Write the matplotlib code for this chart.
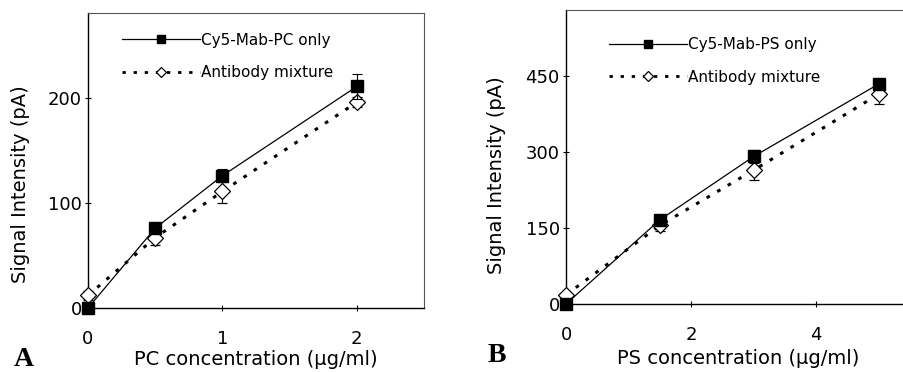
import matplotlib
matplotlib.use("Agg")
import matplotlib.pyplot as plt

# Panel A data
pc_conc = [0, 0.5, 1, 2]
pc_only = [0, 76, 126, 211]
pc_only_err = [0, 4, 6, 12]
pc_mix = [12, 67, 111, 196]
pc_mix_err = [4, 7, 11, 5]

# Panel B data
ps_conc = [0, 1.5, 3, 5]
ps_only = [0, 166, 291, 434]
ps_only_err = [0, 6, 12, 10]
ps_mix = [18, 155, 264, 414]
ps_mix_err = [4, 11, 19, 20]

plt.rcParams['font.family'] = ['DejaVu Sans']

W, H = 904, 372
fig = plt.figure(figsize=(W / 100, H / 100), dpi=100)

def px_axes(l, r, t, b):
    return fig.add_axes([l / W, 1 - b / H, (r - l) / W, (b - t) / H])

def style(ax):
    for s in ['left', 'bottom']:
        ax.spines[s].set_linewidth(1.0)
        ax.spines[s].set_color('black')
    for s in ['top', 'right']:
        ax.spines[s].set_linewidth(0.8)
        ax.spines[s].set_color('#555555')
        ax.spines[s].set_linestyle((0, (3, 1)))
    ax.tick_params(direction='inout', length=5, width=0.8, labelsize=13)
    ax.tick_params(axis='x', pad=13)
    ax.tick_params(axis='y', pad=2)

def draw(ax, x, y1, e1, y2, e2):
    ax.plot(x, y1, color='black', lw=0.9, zorder=2)
    ax.plot(x, y2, color='black', lw=2.2, linestyle=(0, (1.2, 2.8)), zorder=2)
    ax.errorbar(x, y1, yerr=e1, fmt='s', color='black', ms=8.5, mfc='black',
                mec='black', ecolor='black', elinewidth=0.8, capsize=3.5,
                capthick=0.8, zorder=4, clip_on=False)
    ax.errorbar(x, y2, yerr=e2, fmt='D', color='black', ms=8, mfc='white',
                mec='black', mew=0.9, ecolor='black', elinewidth=0.8,
                capsize=3.5, capthick=0.8, zorder=3, clip_on=False)
    h1, = ax.plot([], [], color='black', lw=0.9, marker='s', ms=6, mfc='black')
    h2, = ax.plot([], [], color='black', lw=2.0, linestyle=(0, (1.2, 2.8)),
                  marker='D', ms=5, mfc='white', mec='black', mew=0.9)
    return h1, h2

# Panel A
axA = px_axes(88, 424, 13, 308)
h1, h2 = draw(axA, pc_conc, pc_only, pc_only_err, pc_mix, pc_mix_err)
axA.set_xlim(0, 2.5)
axA.set_ylim(0, 281)
axA.set_xticks([0, 1, 2])
axA.set_yticks([0, 100, 200])
axA.set_xlabel('PC concentration (μg/ml)', fontsize=14, labelpad=2)
axA.set_ylabel('Signal Intensity (pA)', fontsize=14)
axA.yaxis.set_label_coords(-0.172, 0.42)
style(axA)
axA.legend([h1, h2], ['Cy5-Mab-PC only', 'Antibody mixture'], loc='upper left',
           bbox_to_anchor=(0.06, 0.98), frameon=False, fontsize=11,
           handlelength=5.1, handletextpad=0.05, labelspacing=1.15)
fig.text(14 / W, 1 - 360 / H, 'A', fontsize=20, fontweight='bold',
         family='Liberation Serif', va='center', ha='left')

# Panel B
axB = px_axes(566, 910, 10, 304)
g1, g2 = draw(axB, ps_conc, ps_only, ps_only_err, ps_mix, ps_mix_err)
axB.set_xlim(0, 5.5)
axB.set_ylim(0, 580)
axB.set_xticks([0, 2, 4])
axB.set_yticks([0, 150, 300, 450])
axB.set_xlabel('PS concentration (μg/ml)', fontsize=14, labelpad=4)
axB.set_ylabel('Signal Intensity (pA)', fontsize=14)
axB.yaxis.set_label_coords(-0.175, 0.44)
style(axB)
axB.spines['right'].set_visible(False)
axB.legend([g1, g2], ['Cy5-Mab-PS only', 'Antibody mixture'], loc='upper left',
           bbox_to_anchor=(0.086, 0.955), frameon=False, fontsize=11,
           handlelength=5.1, handletextpad=0.05, labelspacing=1.15)
fig.text(488 / W, 1 - 356 / H, 'B', fontsize=20, fontweight='bold',
         family='Liberation Serif', va='center', ha='left')

fig.savefig('out.png', dpi=100)
